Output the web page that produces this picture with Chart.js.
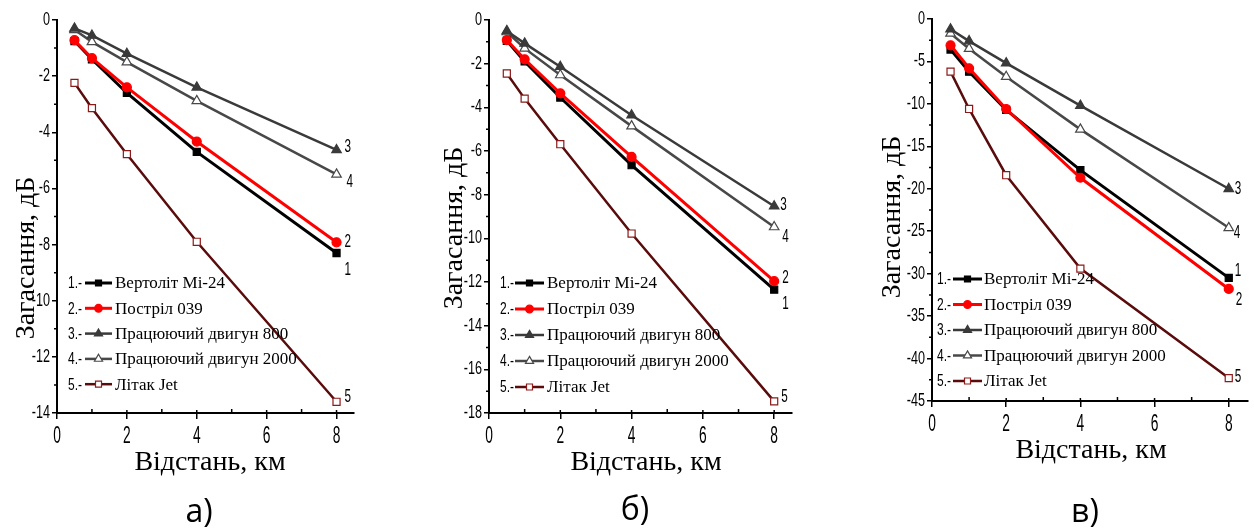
<!DOCTYPE html>
<html>
<head>
<meta charset="utf-8">
<script src="https://cdn.jsdelivr.net/npm/chart.js@4.4.1/dist/chart.umd.min.js"></script>
<style>
  html, body { margin: 0; padding: 0; background: #fff; }
  #wrap { position: relative; width: 1254px; height: 530px; overflow: hidden; background: #fff; }
  #wrap canvas { position: absolute; top: 0; }
</style>
</head>
<body>
<div id="wrap">
  <canvas id="chartA" width="420" height="530" style="left:0px"></canvas>
  <canvas id="chartB" width="420" height="530" style="left:420px"></canvas>
  <canvas id="chartC" width="414" height="530" style="left:840px"></canvas>
</div>
<script>
// --- data ---
const distances = [0.5, 1, 2, 4, 8];
const seriesNames = ['Вертоліт Mi-24', 'Постріл 039', 'Працюючий двигун 800', 'Працюючий двигун 2000', 'Літак Jet'];
const seriesNums = ['1.-', '2.-', '3.-', '4.-', '5.-'];
const endLabels = ['1', '2', '3', '4', '5'];

const xTicks = [0, 2, 4, 6, 8];
const xMinorTicks = [1, 3, 5, 7];

// а)
const heliA    = [-0.75, -1.40, -2.60, -4.70, -8.30];
const shotA    = [-0.72, -1.36, -2.40, -4.33, -7.92];
const eng800A  = [-0.30, -0.55, -1.20, -2.40, -4.63];
const eng2000A = [-0.35, -0.78, -1.50, -2.88, -5.50];
const jetA     = [-2.24, -3.14, -4.78, -7.90, -13.60];
const yTicksA  = [0, -2, -4, -6, -8, -10, -12, -14];

// б)
const heliB    = [-0.95, -1.90, -3.55, -6.65, -12.35];
const shotB    = [-0.92, -1.80, -3.36, -6.27, -11.96];
const eng800B  = [-0.50, -1.07, -2.14, -4.36, -8.53];
const eng2000B = [-0.55, -1.30, -2.52, -4.86, -9.48];
const jetB     = [-2.45, -3.60, -5.69, -9.78, -17.47];
const yTicksB  = [0, -2, -4, -6, -8, -10, -12, -14, -16, -18];

// в)
const heliC    = [-3.6, -6.2, -10.7, -17.8, -30.5];
const shotC    = [-3.1, -5.8, -10.6, -18.7, -31.8];
const eng800C  = [-1.2, -2.6, -5.2, -10.2, -20.0];
const eng2000C = [-1.7, -3.5, -6.8, -13.0, -24.6];
const jetC     = [-6.2, -10.6, -18.4, -29.4, -42.3];
const yTicksC  = [0, -5, -10, -15, -20, -25, -30, -35, -40, -45];

// --- styles ---
const SANS = "'Liberation Sans', Arial, sans-serif";
const SERIF = "'Liberation Serif', 'DejaVu Serif', serif";

const seriesStyle = [
  { color: '#000000', width: 3,   point: 'rect',     radius: 5,   fill: '#000000', border: '#000000' },
  { color: '#ff0000', width: 3,   point: 'circle',   radius: 4.5, fill: '#ff0000', border: '#ff0000' },
  { color: '#3a3a3a', width: 2.5, point: 'triangle', radius: 5.5, fill: '#3a3a3a', border: '#3a3a3a' },
  { color: '#484848', width: 2.5, point: 'triangle', radius: 5.5, fill: '#ffffff', border: '#484848' },
  { color: '#5a0b0b', width: 2.5, point: 'rect',     radius: 5,   fill: '#ffffff', border: '#8b1a1a' }
];
const drawOrder = [1, 0, 2, 3, 4]; // red drawn over black

const panels = [
  {
    id: 'chartA', values: [heliA, shotA, eng800A, eng2000A, jetA], yTicks: yTicksA,
    area: { left: 57, right: 354, top: 20, bottom: 413 },
    xTitle: { x: 210, y: 470 }, yTitle: { x: 34, y: 258 },
    tag: { text: 'а)', x: 199, y: 522 },
    legend: { numX: 68, lineX0: 85, lineX1: 112, textX: 115, y0: 283, dy: 25.3 },
    endOffsets: [[8, 17], [8, 0], [8, -3], [10, 8], [8, -5]]
  },
  {
    id: 'chartB', values: [heliB, shotB, eng800B, eng2000B, jetB], yTicks: yTicksB,
    area: { left: 69, right: 372, top: 20, bottom: 413 },
    xTitle: { x: 226, y: 470 }, yTitle: { x: 42, y: 228 },
    tag: { text: 'б)', x: 215, y: 520 },
    legend: { numX: 80, lineX0: 95, lineX1: 124, textX: 127, y0: 283, dy: 26 },
    endOffsets: [[8, 14], [8, -3], [6, -1], [8, 10], [7, -4]]
  },
  {
    id: 'chartC', values: [heliC, shotC, eng800C, eng2000C, jetC], yTicks: yTicksC,
    area: { left: 92, right: 408, top: 19, bottom: 401 },
    xTitle: { x: 251, y: 458 }, yTitle: { x: 60, y: 217 },
    tag: { text: 'в)', x: 245, y: 522 },
    legend: { numX: 97, lineX0: 113, lineX1: 142, textX: 144, y0: 279, dy: 25.5 },
    endOffsets: [[6, -7], [7, 11], [6, 0], [5, 5], [6, -1]]
  }
];

// text squeezed horizontally, like the narrow font of the original
function narrowText(ctx, text, x, y, align, sx) {
  ctx.save();
  ctx.translate(x, y);
  ctx.scale(sx, 1);
  ctx.textAlign = align;
  ctx.fillText(text, 0, 0);
  ctx.restore();
}

function decorPlugin(p) {
  return {
    id: 'decor',
    afterDraw(chart) {
      const ctx = chart.ctx;
      const xs = chart.scales.x, ys = chart.scales.y, a = chart.chartArea;
      ctx.save();

      // minor / inner ticks
      ctx.strokeStyle = '#000';
      ctx.lineWidth = 1.5;
      ctx.beginPath();
      xMinorTicks.forEach(v => {
        const px = xs.getPixelForValue(v);
        ctx.moveTo(px, a.bottom); ctx.lineTo(px, a.bottom - 4);
      });
      xTicks.forEach(v => {
        const px = xs.getPixelForValue(v);
        ctx.moveTo(px, a.bottom); ctx.lineTo(px, a.bottom - 3);
      });
      for (let i = 0; i < p.yTicks.length - 1; i++) {
        const py = ys.getPixelForValue((p.yTicks[i] + p.yTicks[i + 1]) / 2);
        ctx.moveTo(a.left, py); ctx.lineTo(a.left - 3, py);
      }
      ctx.stroke();

      // tick labels
      ctx.fillStyle = '#000';
      ctx.font = '23px ' + SANS;
      ctx.textBaseline = 'alphabetic';
      xTicks.forEach(v => {
        narrowText(ctx, String(v), xs.getPixelForValue(v), a.bottom + 30, 'center', 0.6);
      });
      ctx.font = '18px ' + SANS;
      ctx.textBaseline = 'middle';
      p.yTicks.forEach(v => {
        narrowText(ctx, String(v), a.left - 7, ys.getPixelForValue(v), 'right', 0.7);
      });

      // numbers at line ends
      ctx.font = '18px ' + SANS;
      ctx.textBaseline = 'middle';
      const last = distances.length - 1;
      p.values.forEach((vals, i) => {
        const px = xs.getPixelForValue(distances[last]);
        const py = ys.getPixelForValue(vals[last]);
        narrowText(ctx, endLabels[i], px + p.endOffsets[i][0], py + p.endOffsets[i][1], 'left', 0.65);
      });

      // legend
      const L = p.legend;
      seriesNames.forEach((name, i) => {
        const s = seriesStyle[i];
        const y = L.y0 + i * L.dy;
        ctx.fillStyle = '#000';
        ctx.font = '16px ' + SANS;
        ctx.textBaseline = 'middle';
        narrowText(ctx, seriesNums[i], L.numX, y + 1, 'left', 0.75);
        ctx.strokeStyle = s.color;
        ctx.lineWidth = s.width;
        ctx.beginPath();
        ctx.moveTo(L.lineX0, y); ctx.lineTo(L.lineX1, y);
        ctx.stroke();
        ctx.fillStyle = s.fill;
        ctx.strokeStyle = s.border;
        ctx.lineWidth = 1.2;
        Chart.helpers.drawPoint(ctx, { pointStyle: s.point, radius: s.radius * 0.85, rotation: 0, borderWidth: 1.2 },
          (L.lineX0 + L.lineX1) / 2, y);
        ctx.fillStyle = '#000';
        ctx.font = '17px ' + SERIF;
        ctx.textAlign = 'left';
        ctx.fillText(name, L.textX, y + 1);
      });

      // axis titles
      ctx.fillStyle = '#000';
      ctx.font = '28px ' + SERIF;
      ctx.textAlign = 'center';
      ctx.textBaseline = 'alphabetic';
      ctx.fillText('Відстань, км', p.xTitle.x, p.xTitle.y);
      ctx.save();
      ctx.translate(p.yTitle.x, p.yTitle.y);
      ctx.rotate(-Math.PI / 2);
      ctx.fillText('Загасання, дБ', 0, 0);
      ctx.restore();

      // panel tag
      ctx.font = "32px 'Open Sans', 'Noto Sans', sans-serif";
      ctx.fillText(p.tag.text, p.tag.x, p.tag.y);

      ctx.restore();
    }
  };
}

function buildPanel(p) {
  const canvas = document.getElementById(p.id);
  const W = canvas.width, H = canvas.height;
  const datasets = p.values.map((vals, i) => {
    const s = seriesStyle[i];
    return {
      label: seriesNames[i],
      data: distances.map((d, k) => ({ x: d, y: vals[k] })),
      borderColor: s.color,
      borderWidth: s.width,
      pointStyle: s.point,
      pointRadius: s.radius,
      pointBackgroundColor: s.fill,
      pointBorderColor: s.border,
      pointBorderWidth: 1.2,
      tension: 0,
      fill: false,
      order: drawOrder[i]
    };
  });

  return new Chart(canvas, {
    type: 'line',
    data: { datasets },
    options: {
      responsive: false,
      animation: false,
      devicePixelRatio: 1,
      layout: { padding: { left: 0, top: p.area.top, right: W - p.area.right, bottom: 0 } },
      plugins: { legend: { display: false }, tooltip: { enabled: false } },
      scales: {
        x: {
          type: 'linear', min: 0, max: 8.5,
          afterBuildTicks: s => { s.ticks = xTicks.map(v => ({ value: v })); },
          afterFit: s => { s.height = H - p.area.bottom; },
          grid: { drawOnChartArea: false, drawTicks: true, tickLength: 6, color: '#000', lineWidth: 1.5 },
          border: { display: true, color: '#000', width: 2 },
          ticks: { display: false }
        },
        y: {
          type: 'linear', min: p.yTicks[p.yTicks.length - 1], max: 0,
          afterBuildTicks: s => { s.ticks = p.yTicks.map(v => ({ value: v })); },
          afterFit: s => { s.width = p.area.left; },
          grid: { drawOnChartArea: false, drawTicks: true, tickLength: 5, color: '#000', lineWidth: 1.5 },
          border: { display: true, color: '#000', width: 2 },
          ticks: { display: false }
        }
      }
    },
    plugins: [decorPlugin(p)]
  });
}

panels.forEach(buildPanel);
</script>
</body>
</html>
